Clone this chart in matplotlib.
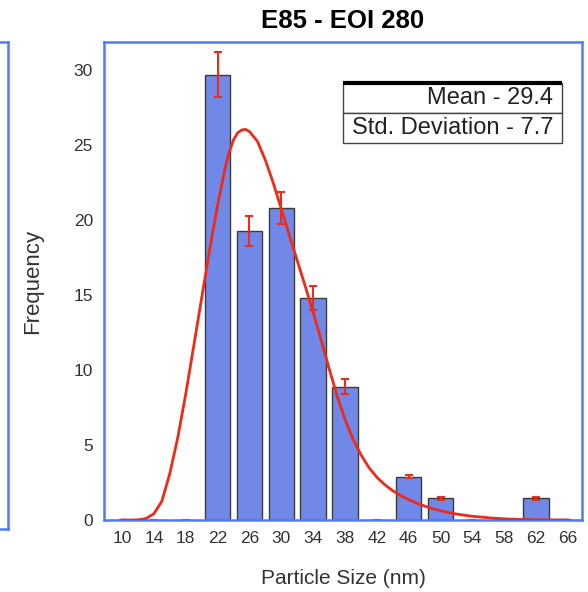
import matplotlib
matplotlib.use("Agg")
from matplotlib import pyplot as plt

plt.rcParams['font.family'] = ['Liberation Sans', 'DejaVu Sans']

# histogram bins (nm) and counts
bin_centers = [10, 14, 18, 22, 26, 30, 34, 38, 42, 46, 50, 54, 58, 62, 66]
frequency = [0, 0, 0, 29.7, 19.3, 20.8, 14.8, 8.9, 0, 2.9, 1.45, 0, 0, 1.45, 0]
freq_err = [0, 0, 0, 1.5, 1.0, 1.05, 0.8, 0.5, 0, 0.12, 0.1, 0, 0, 0.1, 0]

# fitted distribution curve
fit_x = [10, 11, 12, 13, 14, 15, 16, 17, 18, 19, 20, 21, 22, 23, 23.5, 24,
         24.5, 25, 25.5, 26, 27, 28, 29, 30, 31, 32, 33, 34, 35, 36, 37,
         38, 39, 40, 41, 42, 43, 44, 45, 46, 47, 48, 49, 50, 51, 52, 53,
         54, 55, 56, 57, 58, 59, 60, 62, 64, 66]
fit_y = [0, 0, 0.01, 0.1, 0.42, 1.25, 3.1, 5.5, 8.4, 11.6, 14.8, 18.0,
         21.0, 23.6, 24.6, 25.35, 25.8, 26.0, 26.05, 25.9, 25.25, 24.0,
         22.45, 20.75, 19.0, 17.3, 15.6, 13.85, 12.0, 10.1, 8.3, 6.7, 5.4,
         4.35, 3.5, 2.85, 2.35, 1.95, 1.62, 1.36, 1.13, 0.93, 0.76, 0.62,
         0.5, 0.4, 0.32, 0.25, 0.2, 0.15, 0.11, 0.08, 0.06, 0.04, 0.02,
         0.01, 0.0]

stats_rows = [['Mean - 29.4'], ['Std. Deviation - 7.7']]

spine_blue = '#4f7df0'
bar_blue = '#7089e8'
fit_red = '#ee2a18'
text_gray = '#333333'

fig = plt.figure(figsize=(5.88, 5.92), dpi=100)
ax = fig.add_axes([0.1769, 0.1216, 0.8129, 0.8074])

# bit of the neighbouring panel on the left
ax_left = fig.add_axes([-0.3, 0.1064, 0.3136, 0.8226])
ax_left.set_xticks([])
ax_left.set_yticks([])
for s in ax_left.spines.values():
    s.set_color(spine_blue)
    s.set_linewidth(1.8)

ax.bar(bin_centers, frequency, width=3.2, color=bar_blue,
       edgecolor='#3a3a3a', linewidth=1.0, zorder=1)
ax.errorbar(bin_centers, frequency, yerr=freq_err, fmt='none',
            ecolor=fit_red, elinewidth=1.5, capsize=3, capthick=1.5,
            zorder=2)
ax.plot(fit_x, fit_y, color=fit_red, linewidth=2.0, zorder=3,
        solid_joinstyle='round')

ax.set_xlim(7.74, 67.76)
ax.set_ylim(0, 31.87)
ax.set_xticks(bin_centers)
ax.set_yticks([0, 5, 10, 15, 20, 25, 30])
ax.tick_params(axis='both', length=0, labelsize=12.5, labelcolor=text_gray)
ax.tick_params(axis='y', pad=8)
ax.tick_params(axis='x', pad=8)
for s in ax.spines.values():
    s.set_color(spine_blue)
    s.set_linewidth(1.8)

ax.set_title('E85 - EOI 280', fontsize=18.5, fontweight='bold', pad=10)
ax.set_xlabel('Particle Size (nm)', fontsize=15, color=text_gray)
ax.xaxis.set_label_coords(0.5, -0.102)
ax.set_ylabel('Frequency', fontsize=16, color=text_gray)
ax.yaxis.set_label_coords(-0.128, 0.5)

tbl = ax.table(cellText=stats_rows, cellLoc='right',
               bbox=[0.5, 0.789, 0.458, 0.126])
tbl.auto_set_font_size(False)
tbl.set_fontsize(17)
for cell in tbl.get_celld().values():
    cell.PAD = 0.04
    cell.set_edgecolor('#444444')
    cell.set_linewidth(1.0)
    cell.get_text().set_color('#222222')
ax.plot([0.5, 0.958], [0.915, 0.915], transform=ax.transAxes,
        color='black', linewidth=3, solid_capstyle='butt', zorder=5)

fig.savefig('out.png', dpi=100)
